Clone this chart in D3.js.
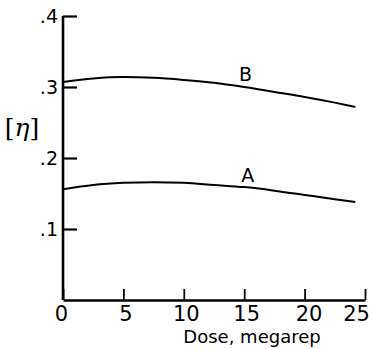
<!DOCTYPE html>
<html><head><meta charset="utf-8">
<script src="https://cdn.jsdelivr.net/npm/d3@7"></script>
<style>html,body{margin:0;padding:0;background:#fff;}svg{display:block;}</style>
</head><body>
<svg id="chart" width="375" height="349"></svg>
<script>
const doses = [0, 2.5, 5, 7.5, 10, 12.5, 15, 17.5, 20, 22.5, 24.2];
const seriesB = [0.307, 0.312, 0.314, 0.313, 0.310, 0.306, 0.300, 0.293, 0.286, 0.278, 0.272];
const seriesA = [0.156, 0.162, 0.165, 0.166, 0.165, 0.162, 0.159, 0.154, 0.148, 0.142, 0.138];
const xTicks = [0, 5, 10, 15, 20, 25];
const yTicks = [0.1, 0.2, 0.3, 0.4];
const yTickLabels = [".1", ".2", ".3", ".4"];
const seriesNames = ["A", "B"];
const labelPos = [[15.3, 0.163], [15.1, 0.3056]];

const svg = d3.select("#chart");
const x = d3.scaleLinear().domain([0, 25]).range([63, 365]);
const y = d3.scaleLinear().domain([0, 0.4]).range([300, 16]);
const font = "'DejaVu Sans', sans-serif";

// curves
const line = d3.line().x((d, i) => x(doses[i])).y(d => y(d)).curve(d3.curveMonotoneX);
[seriesA, seriesB].forEach(s => {
  svg.append("path").datum(s).attr("d", line)
    .attr("fill", "none").attr("stroke", "#000").attr("stroke-width", 2);
});

// y axis
const yAxis = d3.axisLeft(y).tickValues(yTicks)
  .tickFormat((d, i) => yTickLabels[i])
  .tickSizeInner(-14).tickSizeOuter(0).tickPadding(5);
const gy = svg.append("g").attr("transform", `translate(${x(0)},0)`).call(yAxis);
gy.select(".domain").attr("stroke-width", 2.6).attr("d", `M0,${y(0)}V${y(0.4)}`);
gy.selectAll(".tick line").attr("stroke-width", 2.2);
gy.selectAll(".tick text").attr("font-family", font).attr("font-size", 19).attr("fill", "#000");

// x axis
const xAxis = d3.axisBottom(x).tickValues(xTicks)
  .tickSizeInner(-11).tickSizeOuter(0).tickPadding(4);
const gx = svg.append("g").attr("transform", `translate(0,${y(0)})`).call(xAxis);
gx.select(".domain").attr("stroke-width", 2.4);
gx.selectAll(".tick line").attr("stroke-width", 1.8);
gx.selectAll(".tick text").attr("font-family", font).attr("font-size", 21).attr("fill", "#000")
  .attr("dy", "0.8em")
  .attr("dx", d => d === 25 ? -9 : (d === 0 ? -2 : (d === 20 ? 4 : 2)));

// axis titles
svg.append("text").attr("x", 252).attr("y", 343).attr("text-anchor", "middle")
  .attr("font-family", font).attr("font-size", 18).text("Dose, megarep");
const eta = svg.append("text").attr("x", 22).attr("y", 136).attr("text-anchor", "middle")
  .attr("font-family", "'DejaVu Serif', serif").attr("font-size", 25);
eta.append("tspan").text("[");
eta.append("tspan").attr("font-style", "italic").text("η");
eta.append("tspan").text("]");

// series labels
seriesNames.forEach((n, i) => {
  svg.append("text").attr("x", x(labelPos[i][0])).attr("y", y(labelPos[i][1]) - 2)
    .attr("text-anchor", "middle").attr("font-family", font).attr("font-size", 19).text(n);
});
</script>
</body></html>
